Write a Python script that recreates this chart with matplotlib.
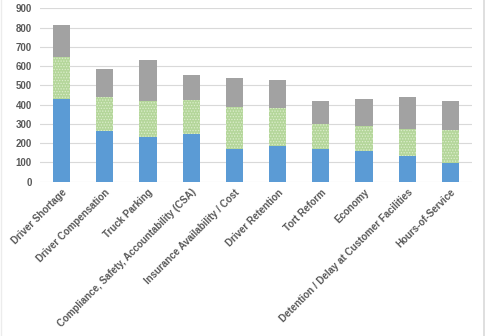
import matplotlib
matplotlib.use("Agg")
import matplotlib.pyplot as plt
import numpy as np

categories = [
    "Driver Shortage",
    "Driver Compensation",
    "Truck Parking",
    "Compliance, Safety, Accountability (CSA)",
    "Insurance Availability / Cost",
    "Driver Retention",
    "Tort Reform",
    "Economy",
    "Detention / Delay at Customer Facilities",
    "Hours-of-Service",
]
first_priority = [427, 263, 234, 246, 170, 185, 168, 157, 133, 97]
second_priority = [222, 178, 183, 176, 218, 196, 130, 130, 142, 170]
third_priority = [164, 146, 213, 134, 150, 145, 119, 142, 163, 150]
yticks = [0, 100, 200, 300, 400, 500, 600, 700, 800, 900]

plt.rcParams["font.family"] = ["Liberation Sans", "DejaVu Sans"]
plt.rcParams["hatch.linewidth"] = 0.6

fig = plt.figure(figsize=(4.86, 3.36), dpi=100)
ax = fig.add_axes([40 / 486, 1 - 181.7 / 336, 432 / 486, (181.7 - 8.3) / 336])

x = np.arange(len(categories))
w = 0.4
b1 = np.array(first_priority)
b2 = b1 + np.array(second_priority)

ax.bar(x, first_priority, w, color="#5b9bd5", linewidth=0, zorder=3)
ax.bar(x, second_priority, w, bottom=b1, color="#b4d69a", edgecolor="#dcedcc",
       hatch="......", linewidth=0, zorder=3)
ax.bar(x, third_priority, w, bottom=b2, color="#a2a2a2", linewidth=0, zorder=3)

ax.set_xlim(-0.5, len(categories) - 0.5)
ax.set_ylim(0, 900)
ax.set_yticks(yticks)
ax.yaxis.grid(True, color="#d9d9d9", linewidth=0.8, zorder=0)
for s in ax.spines.values():
    s.set_visible(False)
ax.tick_params(length=0, pad=6)
ax.tick_params(axis="y", labelsize=7, labelcolor="#595959")
for lbl in ax.get_yticklabels():
    lbl.set_fontweight("bold")
ax.set_xticks(x)
ax.set_xticklabels(categories, rotation=45, ha="right", rotation_mode="anchor",
                   fontsize=7, color="#595959", fontweight="bold")
ax.tick_params(axis="x", pad=4)

# light chart-area frame edges
fig.add_artist(plt.Line2D([483.5 / 486, 483.5 / 486], [0, 1], color="#d9d9d9", lw=1.2,
                          transform=fig.transFigure))
fig.add_artist(plt.Line2D([0.5 / 486, 0.5 / 486], [0, 1], color="#ececec", lw=1.0,
                          transform=fig.transFigure))

fig.savefig("out.png", dpi=100)
